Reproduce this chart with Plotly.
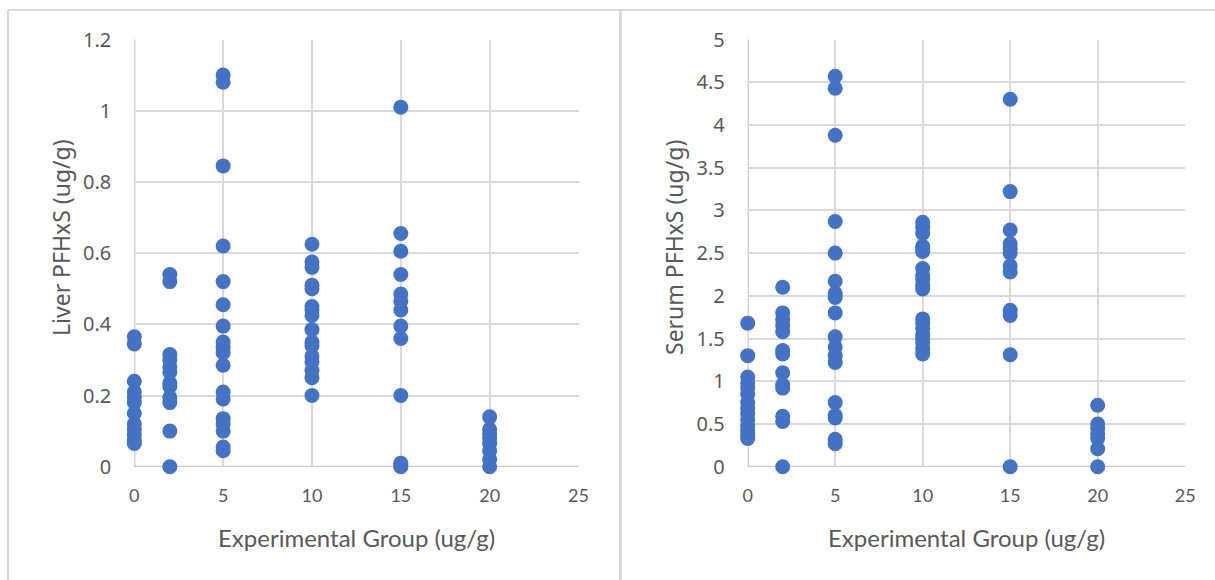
import plotly.graph_objects as go

# ---- data ----
liver_x0 = [0.365, 0.345, 0.24, 0.21, 0.195, 0.18, 0.15, 0.12, 0.105, 0.09, 0.075, 0.065]
liver_x2 = [0.54, 0.52, 0.315, 0.30, 0.28, 0.265, 0.235, 0.225, 0.195, 0.18, 0.10, 0.0]
liver_x5 = [1.10, 1.08, 0.845, 0.62, 0.52, 0.455, 0.395, 0.35, 0.335, 0.32, 0.285, 0.21, 0.19, 0.135, 0.12, 0.10, 0.055, 0.045]
liver_x10 = [0.625, 0.575, 0.56, 0.51, 0.50, 0.45, 0.44, 0.425, 0.385, 0.35, 0.34, 0.31, 0.295, 0.27, 0.25, 0.20]
liver_x15 = [1.01, 0.655, 0.605, 0.54, 0.485, 0.465, 0.44, 0.395, 0.36, 0.20, 0.01, 0.005, 0.0]
liver_x20 = [0.14, 0.105, 0.09, 0.08, 0.065, 0.045, 0.02, 0.0]

serum_x0 = [1.68, 1.30, 1.05, 0.98, 0.92, 0.85, 0.75, 0.68, 0.62, 0.55, 0.48, 0.42, 0.37, 0.33]
serum_x2 = [2.10, 1.80, 1.72, 1.65, 1.58, 1.36, 1.32, 1.10, 0.96, 0.92, 0.59, 0.53, 0.0]
serum_x5 = [4.57, 4.43, 3.88, 2.87, 2.50, 2.17, 2.03, 1.98, 1.80, 1.52, 1.40, 1.30, 1.22, 0.75, 0.60, 0.57, 0.32, 0.27]
serum_x10 = [2.86, 2.80, 2.73, 2.58, 2.55, 2.52, 2.32, 2.24, 2.19, 2.12, 2.08, 1.73, 1.68, 1.62, 1.55, 1.50, 1.45, 1.38, 1.32]
serum_x15 = [4.30, 3.22, 2.77, 2.61, 2.55, 2.50, 2.35, 2.28, 1.83, 1.77, 1.31, 0.0]
serum_x20 = [0.72, 0.50, 0.45, 0.39, 0.33, 0.21, 0.0]

groups = [0, 2, 5, 10, 15, 20]
liver = [liver_x0, liver_x2, liver_x5, liver_x10, liver_x15, liver_x20]
serum = [serum_x0, serum_x2, serum_x5, serum_x10, serum_x15, serum_x20]

x_ticks = [0, 5, 10, 15, 20, 25]
liver_ticks = [0, 0.2, 0.4, 0.6, 0.8, 1, 1.2]
liver_ticktext = ["0", "0.2", "0.4", "0.6", "0.8", "1", "1.2"]
serum_ticks = [0, 0.5, 1, 1.5, 2, 2.5, 3, 3.5, 4, 4.5, 5]
serum_ticktext = ["0", "0.5", "1", "1.5", "2", "2.5", "3", "3.5", "4", "4.5", "5"]

x_title = "Experimental Group (ug/g)"
liver_title = "Liver PFHxS (ug/g)"
serum_title = "Serum PFHxS (ug/g)"


def flatten(gs, vals):
    xs, ys = [], []
    for g, v in zip(gs, vals):
        xs += [g] * len(v)
        ys += v
    return xs, ys


lx, ly = flatten(groups, liver)
sx, sy = flatten(groups, serum)

BLUE = "#4472C4"
GRID = "#D9D9D9"
AXIS = "#BFBFBF"
TXT = "#595959"
YFONT = '"Noto Sans", "Open Sans", sans-serif'
XFONT = 'Lato, sans-serif'

W, H = 1215, 580


def px(v):
    return v / W


def py(v):
    return 1 - v / H


L0, L1 = 134.3, 578.5
R0, R1 = 747.7, 1185.2
TOP, BOT = 39.5, 466.7

fig = go.Figure()
fig.add_trace(go.Scatter(x=lx, y=ly, mode="markers", xaxis="x", yaxis="y",
                         marker=dict(color=BLUE, size=15), showlegend=False, cliponaxis=False))
fig.add_trace(go.Scatter(x=sx, y=sy, mode="markers", xaxis="x2", yaxis="y2",
                         marker=dict(color=BLUE, size=15), showlegend=False, cliponaxis=False))

xcommon = dict(range=[0, 25], tickvals=x_ticks, showgrid=True, gridcolor=GRID, gridwidth=2,
               zeroline=False, showline=False, ticks="", automargin=False,
               ticklabelstandoff=16,
               tickfont=dict(family=XFONT, size=18, color=TXT))
ycommon = dict(showgrid=True, gridcolor=GRID, gridwidth=2, zeroline=False, ticks="",
               automargin=False, ticklabelstandoff=22,
               tickfont=dict(family=YFONT, size=20, color=TXT))

fig.update_layout(
    width=W, height=H, margin=dict(l=0, r=0, t=0, b=0, autoexpand=False),
    paper_bgcolor="white", plot_bgcolor="white",
    xaxis=dict(domain=[px(L0), px(L1)], anchor="y", **xcommon),
    xaxis2=dict(domain=[px(R0), px(R1)], anchor="y2", **xcommon),
    yaxis=dict(domain=[py(BOT), py(TOP)], anchor="x", range=[0, 1.2], tickvals=liver_ticks,
               ticktext=liver_ticktext, **ycommon),
    yaxis2=dict(domain=[py(BOT), py(TOP)], anchor="x2", range=[0, 5], tickvals=serum_ticks,
                ticktext=serum_ticktext, **ycommon),
    annotations=[
        dict(text=x_title, xref="paper", yref="paper", x=px((L0 + L1) / 2), y=py(537),
             showarrow=False, xanchor="center", yanchor="middle",
             font=dict(family=XFONT, size=24, color=TXT)),
        dict(text=x_title, xref="paper", yref="paper", x=px((R0 + R1) / 2), y=py(537),
             showarrow=False, xanchor="center", yanchor="middle",
             font=dict(family=XFONT, size=24, color=TXT)),
        dict(text=liver_title, xref="paper", yref="paper", x=px(61), y=py(238), textangle=-90,
             showarrow=False, xanchor="center", yanchor="middle",
             font=dict(family=YFONT, size=23, color=TXT)),
        dict(text=serum_title, xref="paper", yref="paper", x=px(674), y=py(248), textangle=-90,
             showarrow=False, xanchor="center", yanchor="middle",
             font=dict(family=YFONT, size=23, color=TXT)),
    ],
    shapes=[
        dict(type="line", xref="paper", yref="paper", x0=px(8), x1=1, y0=py(10), y1=py(10),
             line=dict(color=GRID, width=2)),
        dict(type="line", xref="paper", yref="paper", x0=px(8), x1=px(8), y0=py(10), y1=0,
             line=dict(color=GRID, width=2)),
        dict(type="line", xref="paper", yref="paper", x0=px(620.5), x1=px(620.5), y0=py(10), y1=0,
             line=dict(color=GRID, width=3)),
        dict(type="line", xref="x", yref="paper", x0=0, x1=0, y0=py(BOT), y1=py(TOP),
             line=dict(color=AXIS, width=2), layer="below"),
        dict(type="line", xref="x2", yref="paper", x0=0, x1=0, y0=py(BOT), y1=py(TOP),
             line=dict(color=AXIS, width=2), layer="below"),
        dict(type="line", xref="paper", yref="y", x0=px(L0), x1=px(L1), y0=0, y1=0,
             line=dict(color=AXIS, width=2), layer="below"),
        dict(type="line", xref="paper", yref="y2", x0=px(R0), x1=px(R1), y0=0, y1=0,
             line=dict(color=AXIS, width=2), layer="below"),
    ],
)

fig.write_html("out.html")
